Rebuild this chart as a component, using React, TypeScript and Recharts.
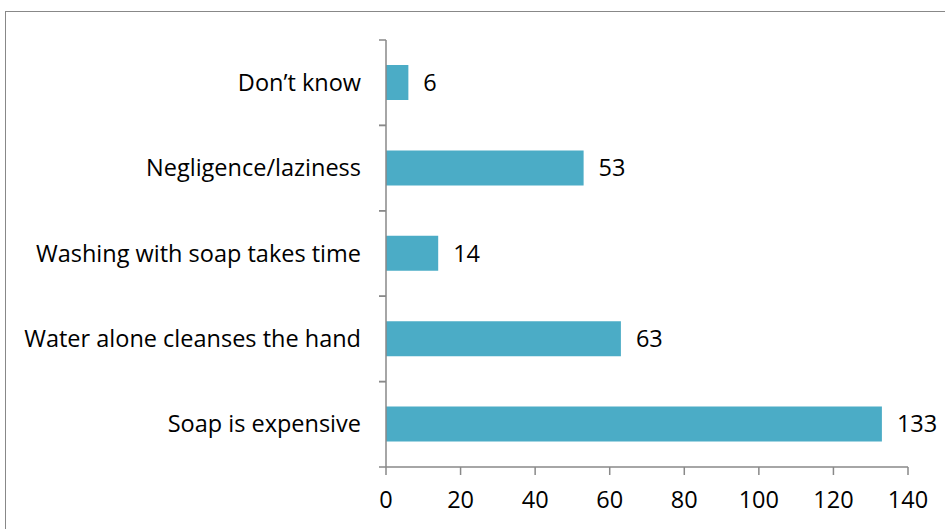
import React from 'react'
import { BarChart, Bar, XAxis, YAxis, LabelList } from 'recharts'

const reasons = [
  "Don’t know",
  'Negligence/laziness',
  'Washing with soap takes time',
  'Water alone cleanses the hand',
  'Soap is expensive'
]
const counts = [6, 53, 14, 63, 133]
const xTicks = [0, 20, 40, 60, 80, 100, 120, 140]

const data = reasons.map((name, i) => ({ name, value: counts[i] }))

const W = 945
const H = 529
const X_AXIS_H = 50
const MARGIN = { top: 40, right: 37, bottom: 12, left: 0 }
const FONT = '"Open Sans", sans-serif'
const FS = 23.5
const AXIS = '#898989'
const band = (H - MARGIN.top - MARGIN.bottom - X_AXIS_H) / reasons.length

// category ticks sit between bars, like the original
const CategoryTick = (props: any) => {
  const { x, y, payload } = props
  const ax = x + 2
  return (
    <g>
      <line x1={ax - 7} x2={ax} y1={y - band / 2} y2={y - band / 2} stroke={AXIS} strokeWidth={1.5} />
      <line x1={ax - 7} x2={ax} y1={y + band / 2} y2={y + band / 2} stroke={AXIS} strokeWidth={1.5} />
      <text x={x - 23} y={y} dy={8} textAnchor="end" fontSize={FS} fill="#000" fontFamily={FONT}>
        {payload.value}
      </text>
    </g>
  )
}

export default function App() {
  return (
    <div style={{ position: 'absolute', left: 0, top: 0, width: W, height: H, background: '#fff', overflow: 'hidden' }}>
      <div
        style={{
          position: 'absolute',
          left: 5,
          top: 11,
          width: W,
          height: H,
          borderLeft: '1.5px solid #888',
          borderTop: '1.5px solid #888'
        }}
      />
      <BarChart width={W} height={H} data={data} layout="vertical" margin={MARGIN}>
        <XAxis
          type="number"
          domain={[0, 140]}
          ticks={xTicks}
          interval={0}
          height={X_AXIS_H}
          axisLine={{ stroke: AXIS, strokeWidth: 1.5 }}
          tickLine={{ stroke: AXIS, strokeWidth: 1.5 }}
          tickSize={8}
          tickMargin={16}
          tick={{ fill: '#000', fontSize: FS, fontFamily: FONT }}
        />
        <YAxis
          type="category"
          dataKey="name"
          width={386}
          axisLine={{ stroke: AXIS, strokeWidth: 1.5 }}
          tickLine={false}
          tickSize={0}
          tick={<CategoryTick />}
          interval={0}
        />
        <Bar dataKey="value" fill="#4BACC6" barSize={35} isAnimationActive={false}>
          <LabelList dataKey="value" position="right" offset={15} fill="#000" fontSize={FS} fontFamily={FONT} />
        </Bar>
      </BarChart>
    </div>
  )
}
